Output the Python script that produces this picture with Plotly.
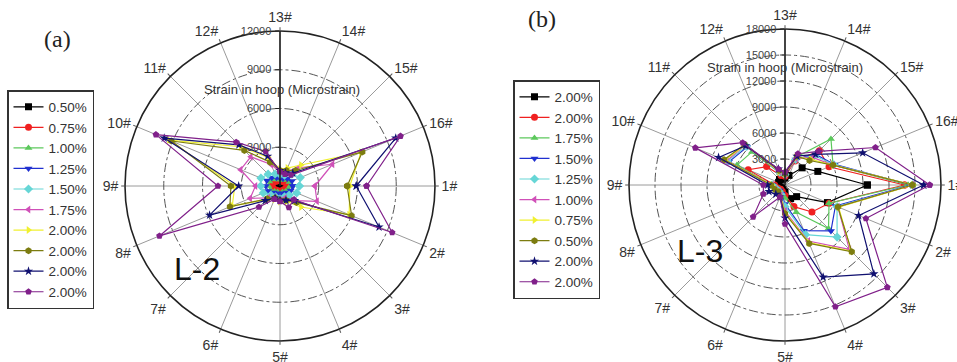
import plotly.graph_objects as go

# Gauge positions around the hoop (clockwise from the right-hand side)
gauges = [f"{i}#" for i in range(1, 17)]

# ---- L-2 : hoop strain (microstrain) per gauge, one list per drift level ----
l2_labels = ["0.50%", "0.75%", "1.00%", "1.25%", "1.50%", "1.75%",
             "2.00%", "2.00%", "2.00%", "2.00%"]
l2_black = [400, 350, 300, 300, 350, 300, 350, 400, 450, 500, 400, 350, 300, 300, 350, 450]
l2_red = [550, 500, 400, 400, 450, 400, 450, 550, 600, 650, 500, 450, 400, 400, 450, 550]
l2_green = [800, 700, 600, 500, 600, 500, 600, 800, 900, 900, 700, 600, 500, 500, 700, 800]
l2_blue = [1000, 900, 700, 600, 700, 600, 700, 1000, 1100, 1100, 900, 700, 600, 600, 800, 1000]
l2_cyan = [1500, 1400, 1000, 900, 1000, 900, 1000, 1400, 1500, 1600, 1300, 1000, 900, 900, 1300, 1700]
l2_magenta = [2700, 3100, 1600, 1000, 1100, 1000, 1300, 2500, 1900, 3300, 3200, 1800, 1100, 1200, 2000, 4400]
l2_yellow = [5400, 5800, 2300, 1300, 1200, 1100, 1500, 4000, 3500, 9300, 4300, 2400, 1300, 1500, 2300, 6800]
l2_olive = [5200, 6000, 1800, 1200, 1100, 1000, 1400, 4200, 3800, 9100, 3900, 2000, 1200, 1300, 1700, 6900]
l2_navy = [5900, 8300, 1600, 1200, 1100, 1000, 1600, 5900, 3200, 9700, 4500, 2500, 1200, 1100, 1400, 9700]
l2_purple = [6700, 9400, 1500, 1800, 1200, 1100, 2300, 10100, 4800, 10400, 4800, 2900, 1100, 1000, 1200, 10100]
l2_series = [l2_black, l2_red, l2_green, l2_blue, l2_cyan, l2_magenta,
             l2_yellow, l2_olive, l2_navy, l2_purple]

# ---- L-3 ----
l3_labels = ["2.00%", "2.00%", "1.75%", "1.50%", "1.25%", "1.00%",
             "0.75%", "0.50%", "2.00%", "2.00%"]
l3_black = [9500, 5300, 1900, 1700, 800, 600, 500, 600, 700, 800, 900, 700, 800, 1200, 2800, 4100]
l3_red = [13800, 5500, 4400, 2700, 1200, 800, 700, 900, 1200, 4600, 3000, 1200, 1000, 3000, 5600, 5500]
l3_green = [14200, 5500, 7100, 3400, 1500, 1000, 800, 1000, 1500, 6000, 5400, 1500, 1200, 3500, 7500, 6000]
l3_blue = [14500, 6300, 7500, 5700, 2200, 1100, 900, 1100, 1500, 7000, 6200, 1600, 1200, 3200, 5000, 6200]
l3_cyan = [14700, 6500, 8500, 6200, 2500, 1200, 1000, 1100, 1500, 7200, 6300, 1600, 1200, 3200, 4800, 6100]
l3_magenta = [14700, 6600, 10500, 7000, 3000, 1300, 1000, 1200, 1500, 7300, 6500, 1700, 1200, 3300, 4500, 6000]
l3_yellow = [14800, 6700, 10800, 7200, 3200, 1400, 1100, 1200, 1500, 7500, 6500, 1700, 1300, 3500, 4200, 6000]
l3_olive = [14700, 6600, 10900, 7300, 3300, 1500, 1100, 1300, 1600, 7600, 6600, 1800, 1300, 3600, 4000, 6000]
l3_navy = [16000, 9200, 14500, 11500, 3800, 1500, 1500, 2000, 2000, 8300, 6400, 2000, 1500, 3600, 5000, 9700]
l3_purple = [16700, 10100, 16700, 15200, 4500, 1500, 5200, 2700, 2500, 11200, 6900, 2000, 1500, 3900, 5500, 11300]
l3_series = [l3_black, l3_red, l3_green, l3_blue, l3_cyan, l3_magenta,
             l3_yellow, l3_olive, l3_navy, l3_purple]

colors = ["#000000", "#f02020", "#5cc85c", "#2030d0", "#66d6d6",
          "#d050b8", "#f0f030", "#7c7c10", "#101070", "#80208a"]
symbols = ["square", "circle", "triangle-up", "triangle-down", "diamond",
           "triangle-left", "triangle-right", "hexagon", "star", "pentagon"]

FONT = "Liberation Sans, Arial, sans-serif"
SERIF = "Liberation Serif, Times New Roman, serif"

fig = go.Figure()


def closed(vals):
    return list(vals) + [vals[0]]


for vals, name, col, sym in zip(l2_series, l2_labels, colors, symbols):
    fig.add_trace(go.Scatterpolar(
        r=closed(vals), theta=closed(gauges), name=name, subplot="polar",
        legend="legend", mode="lines+markers",
        line=dict(color=col, width=1.2),
        marker=dict(symbol=sym, size=7, color=col)))

for vals, name, col, sym in zip(l3_series, l3_labels, colors, symbols):
    fig.add_trace(go.Scatterpolar(
        r=closed(vals), theta=closed(gauges), name=name, subplot="polar2",
        legend="legend2", mode="lines+markers",
        line=dict(color=col, width=1.2),
        marker=dict(symbol=sym, size=7, color=col)))


def polar_layout(dom_x, dom_y, rmax, ticks):
    return dict(
        domain=dict(x=dom_x, y=dom_y),
        bgcolor="white",
        angularaxis=dict(
            type="category", categoryarray=gauges, direction="clockwise",
            rotation=0, showline=True, linecolor="#222", linewidth=1.6,
            gridcolor="#9a9a9a", gridwidth=1, ticks="outside", ticklen=3,
            tickcolor="#555", tickfont=dict(family=FONT, size=14, color="#333")),
        radialaxis=dict(
            range=[0, rmax], angle=90, tickangle=90, side="counterclockwise",
            tickvals=ticks, ticktext=[str(t) for t in ticks],
            showline=True, linecolor="#222", linewidth=1.6,
            ticks="outside", ticklen=4, tickcolor="#222",
            gridcolor="#555", griddash="dashdot", gridwidth=1,
            tickfont=dict(family=FONT, size=11, color="#444")),
    )


def legend_box(x_px, y_px):
    return dict(x=x_px / 957, y=1 - y_px / 362, xanchor="left", yanchor="top",
                bordercolor="#333", borderwidth=1.5, bgcolor="white",
                font=dict(family=FONT, size=13.5, color="#333"),
                tracegroupgap=0)


def note(text, x_px, y_px, size, family=FONT, color="#333"):
    return dict(text=text, x=x_px / 957, y=1 - y_px / 362,
                xref="paper", yref="paper", xanchor="center", yanchor="middle",
                showarrow=False, font=dict(family=family, size=size, color=color))


fig.update_layout(
    width=957, height=362, autosize=False,
    margin=dict(l=0, r=0, t=0, b=0),
    paper_bgcolor="white",
    font=dict(family=FONT, color="#333"),
    polar=polar_layout([124 / 957, 436 / 957], [21 / 362, 331 / 362],
                       12000, [3000, 6000, 9000, 12000]),
    polar2=polar_layout([628 / 957, 942 / 957], [21 / 362, 333 / 362],
                        18000, [3000, 6000, 9000, 12000, 15000, 18000]),
    legend=legend_box(7, 90),
    legend2=legend_box(513, 80),
    annotations=[
        note("Strain in hoop (Microstrain)", 282, 89, 13),
        note("Strain in hoop (Microstrain)", 785, 67, 13),
        note("(a)", 57, 39, 24, SERIF, "#222"),
        note("(b)", 542, 19, 24, SERIF, "#222"),
        note("L-2", 197, 269, 32, FONT, "#111"),
        note("L-3", 700, 251, 32, FONT, "#111"),
    ],
)

fig.write_html("out.html")
